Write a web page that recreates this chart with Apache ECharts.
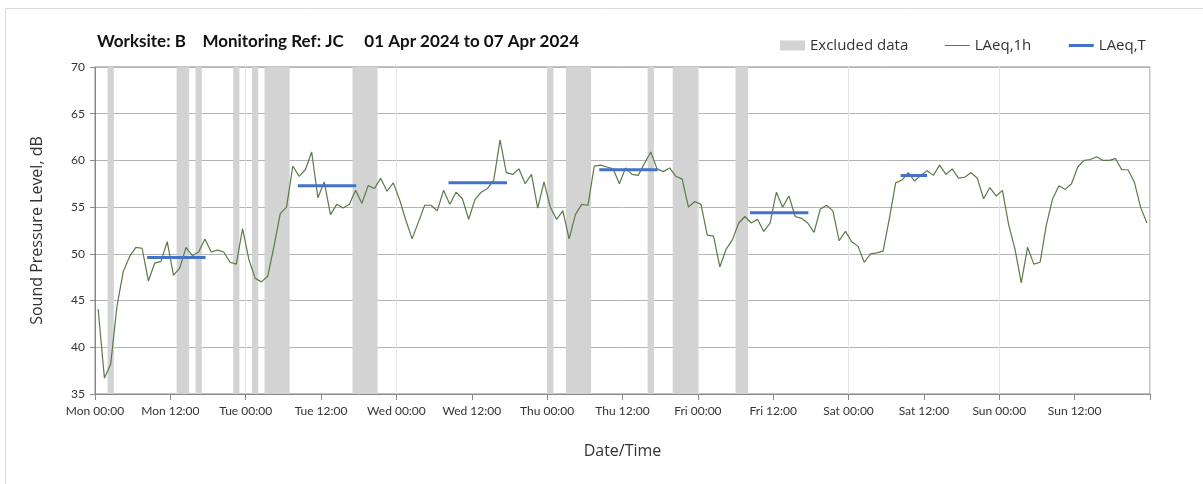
<!DOCTYPE html>
<html>
<head>
<meta charset="utf-8">
<script src="https://cdn.jsdelivr.net/npm/echarts@6/dist/echarts.min.js"></script>
<style>
  html, body { margin: 0; padding: 0; background: #fff; }
  #main { width: 1203px; height: 484px; }
</style>
</head>
<body>
<div id="main"></div>
<script>
// tick labels every 12 hours from Mon 00:00
var tickLabels = ['Mon 00:00', 'Mon 12:00', 'Tue 00:00', 'Tue 12:00', 'Wed 00:00', 'Wed 12:00',
    'Thu 00:00', 'Thu 12:00', 'Fri 00:00', 'Fri 12:00', 'Sat 00:00', 'Sat 12:00', 'Sun 00:00', 'Sun 12:00'];

// LAeq,1h - one value per hour, hour 0 = Mon 00:00
var hourlyLevels = [
    44.1, 36.7, 38.2, 44.4, 48.1, 49.7, 50.7, 50.6, 47.1, 49.0, 49.2, 51.3,
    47.7, 48.5, 50.7, 49.8, 50.2, 51.6, 50.2, 50.4, 50.2, 49.1, 48.9, 52.7,
    49.4, 47.4, 47.0, 47.6, 50.8, 54.3, 55.0, 59.4, 58.3, 59.0, 60.9, 56.0,
    57.7, 54.2, 55.3, 54.9, 55.3, 56.8, 55.4, 57.3, 57.0, 58.1, 56.7, 57.6,
    55.8, 53.6, 51.6, 53.4, 55.2, 55.2, 54.6, 56.8, 55.3, 56.6, 55.9, 53.7,
    55.8, 56.6, 57.0, 57.9, 62.2, 58.7, 58.5, 59.1, 57.5, 58.5, 54.9, 57.7,
    55.0, 53.7, 54.6, 51.6, 54.2, 55.3, 55.2, 59.4, 59.5, 59.3, 59.1, 57.5,
    59.2, 58.5, 58.4, 59.7, 60.9, 59.1, 58.8, 59.2, 58.3, 58.0, 55.0, 55.6,
    55.3, 52.0, 51.9, 48.6, 50.5, 51.5, 53.3, 54.0, 53.3, 53.7, 52.4, 53.3,
    56.6, 55.0, 56.2, 54.0, 53.8, 53.3, 52.3, 54.8, 55.2, 54.6, 51.4, 52.4,
    51.3, 50.8, 49.1, 50.0, 50.1, 50.3, 53.8, 57.6, 57.9, 58.7, 57.8, 58.4,
    58.9, 58.4, 59.5, 58.5, 59.1, 58.1, 58.2, 58.7, 58.1, 55.9, 57.1, 56.2,
    56.8, 53.1, 50.5, 46.9, 50.7, 48.9, 49.1, 53.1, 55.9, 57.3, 56.9, 57.5,
    59.3, 60.0, 60.1, 60.4, 60.0, 60.0, 60.2, 59.0, 59.0, 57.7, 55.0, 53.3
];

// LAeq,T daytime periods (hours from Mon 00:00)
var periodStart = [8.3, 32.3, 56.3, 80.3, 104.3, 128.3];
var periodEnd   = [17.6, 41.6, 65.6, 89.6, 113.6, 132.5];
var periodLevel = [49.6, 57.3, 57.6, 59.0, 54.4, 58.4];

// excluded data (hour ranges)
var excludedStart = [2, 13, 16, 22, 25, 27, 41, 72, 75, 88, 92, 102];
var excludedEnd   = [3, 15, 17, 23, 26, 31, 45, 73, 79, 89, 96, 104];

var lineData = hourlyLevels.map(function (v, i) { return [i + 0.5, v]; });

var periodData = [];
for (var i = 0; i < periodStart.length; i++) {
    periodData.push([periodStart[i], periodLevel[i]]);
    periodData.push([periodEnd[i], periodLevel[i]]);
    periodData.push([periodEnd[i] + 0.1, '-']);
}

var excludedAreas = [];
for (var j = 0; j < excludedStart.length; j++) {
    excludedAreas.push([{ xAxis: excludedStart[j] }, { xAxis: excludedEnd[j] }]);
}

var font = 'Lato, "Open Sans", sans-serif';
var wideFont = '"Open Sans", sans-serif';
var chart = echarts.init(document.getElementById('main'), null, { renderer: 'canvas' });

chart.setOption({
    animation: false,
    title: {
        text: 'Worksite: B    Monitoring Ref: JC     01 Apr 2024 to 07 Apr 2024',
        left: 92,
        top: 28,
        textStyle: { fontFamily: font, fontSize: 17, fontWeight: 'bold', color: '#111' }
    },
    legend: {
        left: 775,
        top: 33,
        itemWidth: 25,
        itemHeight: 10,
        itemGap: 36,
        textStyle: { fontFamily: wideFont, fontSize: 15, color: '#333' },
        data: [
            { name: 'Excluded data', icon: 'rect' },
            { name: 'LAeq,1h', itemStyle: { opacity: 0 }, lineStyle: { width: 1 } },
            { name: 'LAeq,T', itemStyle: { opacity: 0 }, lineStyle: { width: 3 } }
        ]
    },
    graphic: [{
        type: 'rect',
        shape: { x: 5.5, y: 8.5, width: 1300, height: 600 },
        style: { fill: 'none', stroke: '#d9d9d9', lineWidth: 1 },
        silent: true
    }],
    grid: {
        left: 95, right: 53, top: 67, bottom: 90,
        show: true, borderColor: '#888', borderWidth: 1
    },
    xAxis: [{
        type: 'value',
        min: 0, max: 168, interval: 12,
        name: 'Date/Time',
        nameLocation: 'middle',
        nameGap: 49,
        nameTextStyle: { fontFamily: wideFont, fontSize: 16, color: '#333' },
        axisLine: { lineStyle: { color: '#888' } },
        axisTick: { show: true, length: 6, lineStyle: { color: '#888' } },
        axisLabel: {
            fontFamily: font, fontSize: 12, color: '#333', margin: 11,
            formatter: function (v) { return tickLabels[Math.round(v / 12)] || ''; }
        },
        splitLine: { show: false }
    }, {
        type: 'value',
        min: 0, max: 168, interval: 24,
        position: 'bottom',
        axisLine: { show: false },
        axisTick: { show: false },
        axisLabel: { show: false },
        splitLine: { show: true, lineStyle: { color: '#e4e4e4', width: 1 } }
    }],
    yAxis: {
        type: 'value',
        min: 35, max: 70, interval: 5,
        name: 'Sound Pressure Level, dB',
        nameLocation: 'middle',
        nameGap: 50,
        nameTextStyle: { fontFamily: wideFont, fontSize: 16, color: '#333' },
        axisLine: { show: true, lineStyle: { color: '#888' } },
        axisTick: { show: true, length: 5, lineStyle: { color: '#888' } },
        axisLabel: { fontFamily: font, fontSize: 12, color: '#333', margin: 10 },
        splitLine: { lineStyle: { color: '#b4b4b4', width: 1 } }
    },
    series: [{
        name: 'Excluded data',
        type: 'bar',
        data: [],
        itemStyle: { color: '#d3d3d3' },
        z: 1,
        markArea: {
            silent: true,
            itemStyle: { color: '#d3d3d3' },
            data: excludedAreas
        }
    }, {
        name: 'LAeq,1h',
        type: 'line',
        data: lineData,
        symbol: 'none',
        z: 3,
        color: '#5a7a48',
        lineStyle: { color: '#5a7a48', width: 1.2 }
    }, {
        name: 'LAeq,T',
        type: 'line',
        data: periodData,
        symbol: 'none',
        connectNulls: false,
        z: 4,
        color: '#4472c4',
        lineStyle: { color: '#4472c4', width: 3 }
    }]
});
</script>
</body>
</html>
